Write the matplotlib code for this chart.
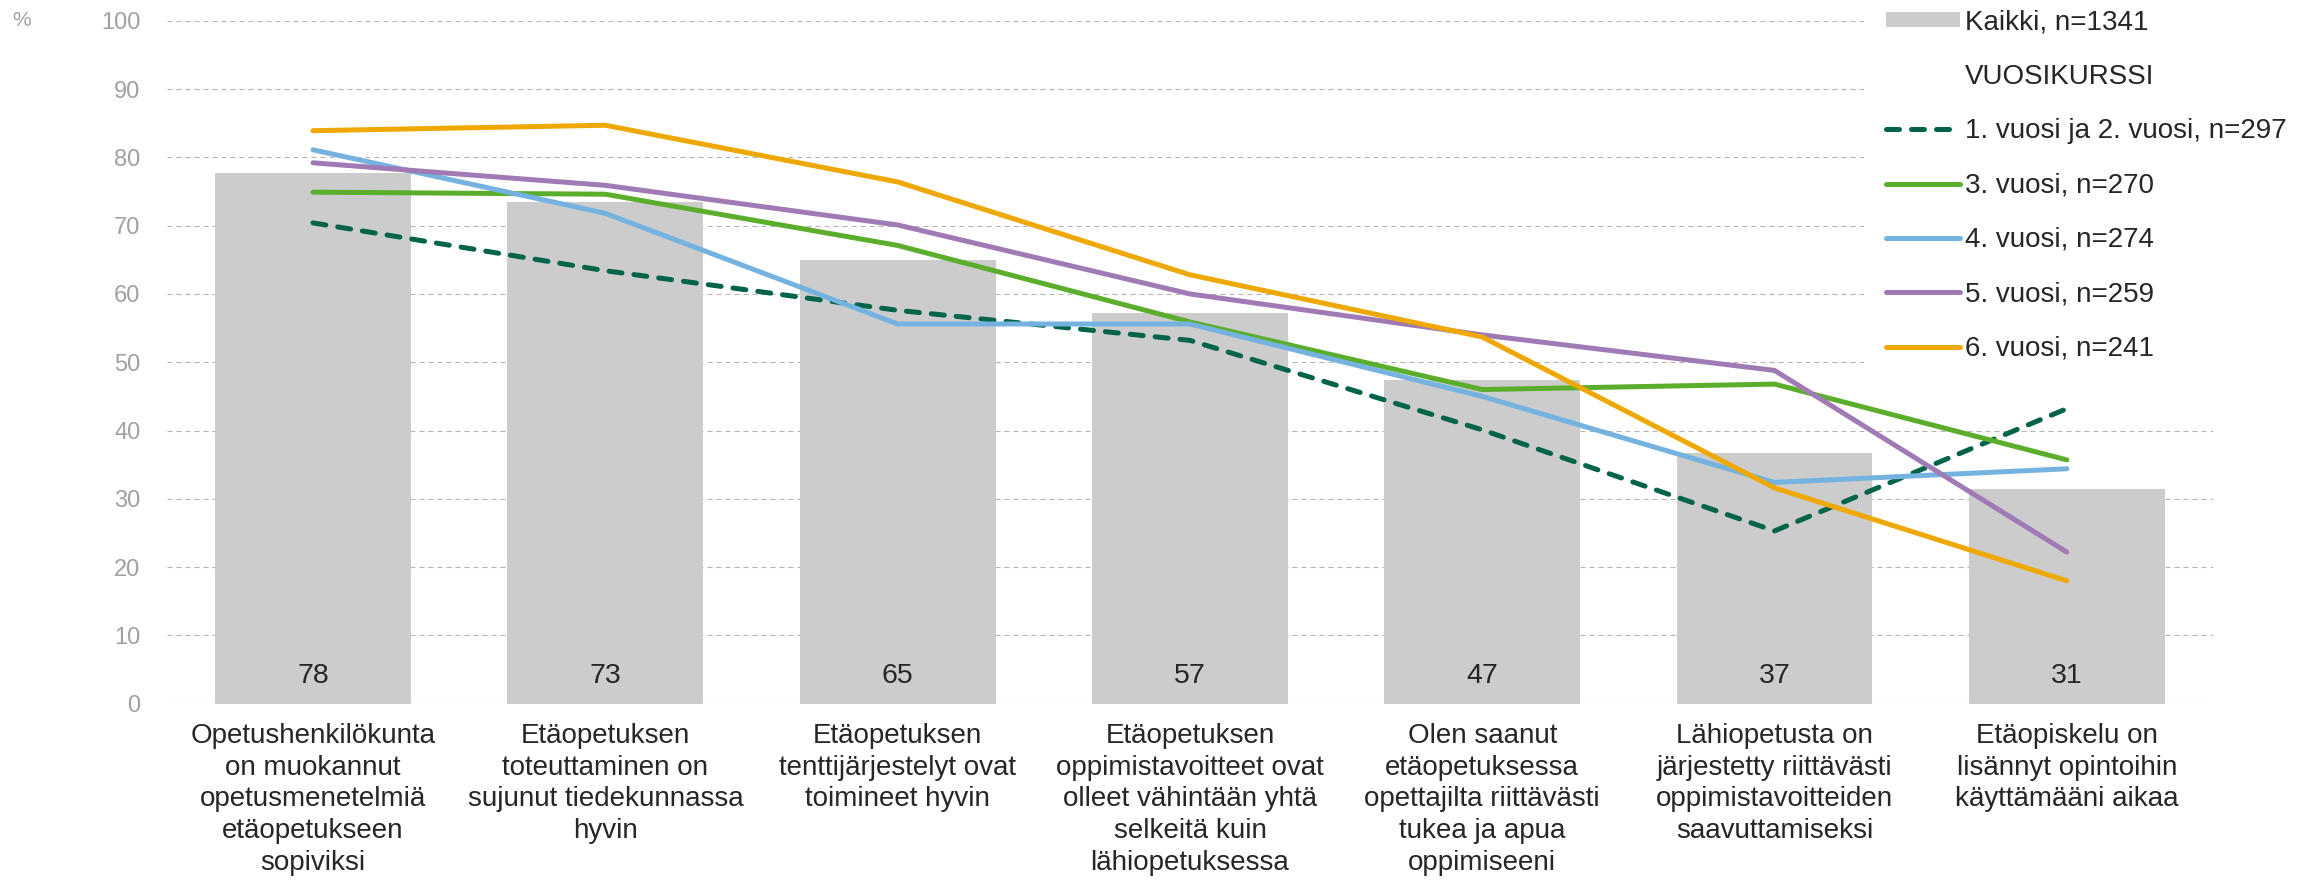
import matplotlib
matplotlib.use("Agg")
from matplotlib import pyplot as plt
from matplotlib.patches import Patch
from matplotlib.lines import Line2D

plt.rcParams["font.family"] = ["Liberation Sans", "DejaVu Sans"]

categories = [
    "Opetushenkilökunta\non muokannut\nopetusmenetelmiä\netäopetukseen\nsopiviksi",
    "Etäopetuksen\ntoteuttaminen on\nsujunut tiedekunnassa\nhyvin",
    "Etäopetuksen\ntenttijärjestelyt ovat\ntoimineet hyvin",
    "Etäopetuksen\noppimistavoitteet ovat\nolleet vähintään yhtä\nselkeitä kuin\nlähiopetuksessa",
    "Olen saanut\netäopetuksessa\nopettajilta riittävästi\ntukea ja apua\noppimiseeni",
    "Lähiopetusta on\njärjestetty riittävästi\noppimistavoitteiden\nsaavuttamiseksi",
    "Etäopiskelu on\nlisännyt opintoihin\nkäyttämääni aikaa",
]

kaikki = [77.7, 73.4, 65.0, 57.2, 47.4, 36.7, 31.4]
vuosi_1_2 = [70.4, 63.4, 57.6, 53.2, 40.1, 25.3, 43.2]
vuosi_3 = [74.9, 74.6, 67.1, 55.9, 46.0, 46.8, 35.7]
vuosi_4 = [81.1, 71.8, 55.6, 55.6, 45.0, 32.4, 34.4]
vuosi_5 = [79.2, 75.9, 70.1, 60.0, 54.0, 48.8, 22.2]
vuosi_6 = [83.9, 84.7, 76.4, 62.8, 53.7, 31.6, 18.0]

kaikki_label = "Kaikki, n=1341"
group_title = "VUOSIKURSSI"
line_labels = ["1. vuosi ja 2. vuosi, n=297", "3. vuosi, n=270", "4. vuosi, n=274",
               "5. vuosi, n=259", "6. vuosi, n=241"]
line_colors = ["#00634A", "#5BAD2C", "#74B2DF", "#A07AB5", "#EFA800"]

text_col = "#262626"
tick_col = "#A0A0A0"

fig = plt.figure(figsize=(23.18, 8.9), dpi=100)
ax = fig.add_axes([0.072, 0.2093, 0.8827, 0.7674])

x = list(range(len(categories)))
ax.bar(x, kaikki, width=0.67, color="#CCCCCC", zorder=2)
for xi, v in zip(x, kaikki):
    ax.text(xi, 4.0, f"{round(v)}", ha="center", va="center", fontsize=20.5,
            color=text_col, zorder=3)

series = [vuosi_1_2, vuosi_3, vuosi_4, vuosi_5, vuosi_6]
for i, (vals, col) in enumerate(zip(series, line_colors)):
    if i == 0:
        ax.plot(x, vals, color=col, lw=3.6, dashes=(2.6, 2.4),
                dash_capstyle="round", solid_capstyle="round", zorder=4)
    else:
        ax.plot(x, vals, color=col, lw=3.6, solid_capstyle="round", zorder=4)

ax.set_xlim(-0.5, len(categories) - 0.5)
ax.set_ylim(0, 100)
ax.set_yticks(range(0, 101, 10))
ax.set_xticks(x)
ax.set_xticklabels(categories, fontsize=20, color=text_col, linespacing=1.28)
ax.tick_params(axis="x", length=0, pad=14)
ax.tick_params(axis="y", length=0, pad=19, labelsize=17, labelcolor=tick_col)
ax.yaxis.grid(True, color="#B5B5B5", lw=0.8, dashes=(4.5, 3.6), zorder=1)
ax.set_axisbelow(True)
for s in ax.spines.values():
    s.set_visible(False)

fig.text(22 / 2318, 1 - 20 / 890, "%", fontsize=15, color=tick_col,
         ha="center", va="center")

handles = [Patch(facecolor="#CCCCCC", edgecolor="none"),
           Line2D([], [], color="none")]
for i, col in enumerate(line_colors):
    if i == 0:
        handles.append(Line2D([], [], color=col, lw=3.6, dashes=(2.6, 2.4),
                              dash_capstyle="round"))
    else:
        handles.append(Line2D([], [], color=col, lw=3.6, solid_capstyle="round"))
labels = [kaikki_label, group_title] + line_labels

leg = fig.legend(handles, labels, loc="upper left",
                 bbox_to_anchor=(1850 / 2318, 1.03), fontsize=20,
                 frameon=True, facecolor="white", edgecolor="none",
                 framealpha=1, fancybox=False, borderpad=0.8,
                 handlelength=2.65, handleheight=0.5, handletextpad=0.2,
                 labelspacing=1.02)
for t in leg.get_texts():
    t.set_color(text_col)
leg.set_zorder(10)

fig.savefig("out.png", dpi=100)
